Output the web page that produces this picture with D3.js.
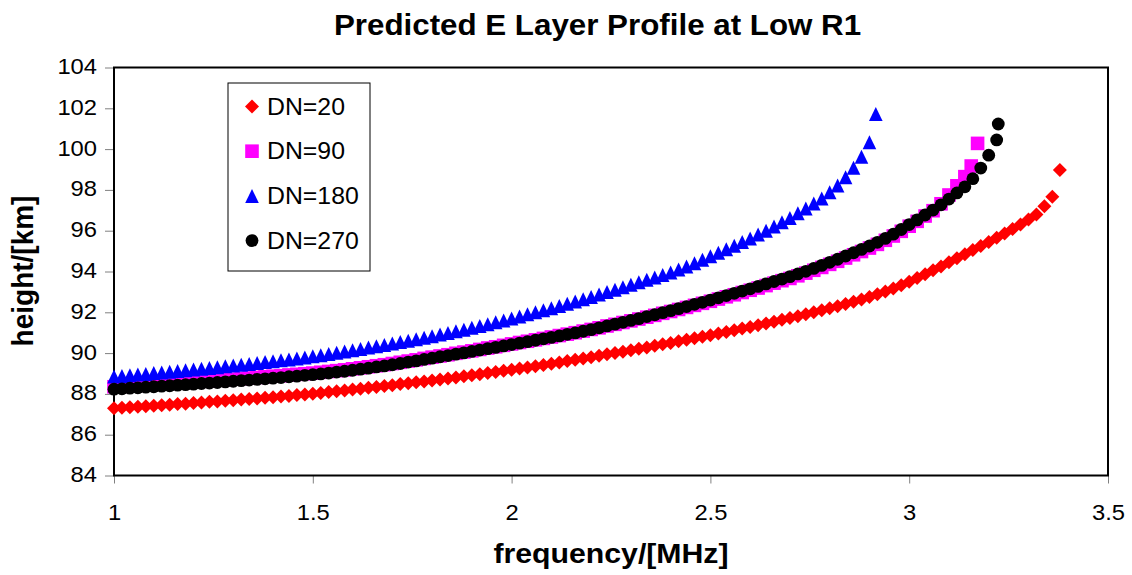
<!DOCTYPE html>
<html>
<head>
<meta charset="utf-8">
<script src="https://cdn.jsdelivr.net/npm/d3@7"></script>
<style>
  body { margin: 0; background: #fff; }
  text { font-family: "Liberation Sans", Arial, sans-serif; fill: #000; }
</style>
</head>
<body>
<svg id="chart" width="1132" height="575"></svg>
<script>
// frequency grid (MHz), shared by all four series
const freq = [
  1.00,1.02,1.04,1.06,1.08, 1.10,1.12,1.14,1.16,1.18,
  1.20,1.22,1.24,1.26,1.28, 1.30,1.32,1.34,1.36,1.38,
  1.40,1.42,1.44,1.46,1.48, 1.50,1.52,1.54,1.56,1.58,
  1.60,1.62,1.64,1.66,1.68, 1.70,1.72,1.74,1.76,1.78,
  1.80,1.82,1.84,1.86,1.88, 1.90,1.92,1.94,1.96,1.98,
  2.00,2.02,2.04,2.06,2.08, 2.10,2.12,2.14,2.16,2.18,
  2.20,2.22,2.24,2.26,2.28, 2.30,2.32,2.34,2.36,2.38,
  2.40,2.42,2.44,2.46,2.48, 2.50,2.52,2.54,2.56,2.58,
  2.60,2.62,2.64,2.66,2.68, 2.70,2.72,2.74,2.76,2.78,
  2.80,2.82,2.84,2.86,2.88, 2.90,2.92,2.94,2.96,2.98,
  3.00,3.02,3.04,3.06,3.08, 3.10,3.12,3.14,3.16,3.18,
  3.20,3.22,3.24,3.26,3.28, 3.30,3.32,3.34,3.36
];

// heights (km) on the grid above
const dn20 = [
  87.30,87.32,87.34,87.37,87.39, 87.42,87.44,87.47,87.50,87.52,
  87.55,87.58,87.61,87.63,87.66, 87.69,87.72,87.75,87.78,87.81,
  87.84,87.87,87.90,87.94,87.97, 88.01,88.05,88.09,88.13,88.17,
  88.21,88.25,88.30,88.34,88.39, 88.43,88.48,88.52,88.57,88.61,
  88.66,88.71,88.76,88.81,88.86, 88.91,88.96,89.02,89.07,89.13,
  89.18,89.24,89.30,89.36,89.42, 89.48,89.54,89.61,89.67,89.74,
  89.80,89.87,89.94,90.00,90.07, 90.14,90.21,90.28,90.36,90.43,
  90.50,90.58,90.65,90.73,90.80, 90.88,90.96,91.04,91.12,91.20,
  91.28,91.37,91.45,91.54,91.63, 91.72,91.81,91.91,92.00,92.10,
  92.20,92.30,92.41,92.52,92.63, 92.75,92.88,93.02,93.17,93.33,
  93.50,93.68,93.87,94.06,94.25, 94.45,94.65,94.85,95.05,95.25,
  95.45,95.65,95.86,96.08,96.30, 96.55,96.80,97.20,97.67
];
const dn90 = [
  88.35,88.37,88.40,88.42,88.45, 88.47,88.50,88.52,88.55,88.57,
  88.60,88.62,88.64,88.67,88.70, 88.72,88.75,88.78,88.81,88.84,
  88.87,88.89,88.93,88.96,88.99, 89.02,89.06,89.10,89.14,89.18,
  89.23,89.28,89.33,89.38,89.43, 89.49,89.55,89.61,89.67,89.74,
  89.80,89.86,89.92,89.99,90.05, 90.11,90.18,90.25,90.31,90.38,
  90.45,90.52,90.58,90.65,90.72, 90.79,90.86,90.93,91.00,91.08,
  91.16,91.24,91.33,91.41,91.50, 91.58,91.67,91.76,91.85,91.95,
  92.04,92.14,92.24,92.34,92.44, 92.54,92.65,92.76,92.86,92.97,
  93.08,93.19,93.31,93.43,93.55, 93.66,93.79,93.92,94.06,94.20,
  94.35,94.50,94.66,94.82,94.98, 95.15,95.33,95.53,95.74,95.97,
  96.22,96.46,96.72,96.98,97.32, 97.75,98.20,98.65
];
const dn180 = [
  88.85,88.88,88.92,88.95,88.98, 89.02,89.05,89.09,89.12,89.16,
  89.20,89.23,89.27,89.31,89.35, 89.39,89.43,89.47,89.51,89.56,
  89.60,89.65,89.69,89.74,89.79, 89.85,89.90,89.96,90.02,90.08,
  90.14,90.20,90.27,90.33,90.40, 90.47,90.54,90.61,90.68,90.75,
  90.83,90.91,90.99,91.07,91.15, 91.24,91.33,91.42,91.51,91.60,
  91.70,91.80,91.90,92.00,92.10, 92.20,92.31,92.42,92.53,92.64,
  92.75,92.87,92.99,93.11,93.23, 93.35,93.47,93.59,93.71,93.83,
  93.95,94.10,94.25,94.41,94.58, 94.75,94.92,95.09,95.26,95.44,
  95.62,95.81,96.00,96.20,96.41, 96.62,96.85,97.09,97.33,97.58,
  97.88,98.22,98.62,99.08,99.62, 100.34
];
const dn270 = [
  88.23,88.25,88.28,88.30,88.33, 88.35,88.38,88.40,88.43,88.45,
  88.48,88.51,88.53,88.56,88.59, 88.62,88.65,88.68,88.71,88.74,
  88.77,88.80,88.84,88.87,88.91, 88.94,88.98,89.02,89.07,89.11,
  89.16,89.21,89.26,89.32,89.37, 89.43,89.49,89.56,89.62,89.69,
  89.75,89.82,89.88,89.95,90.01, 90.08,90.15,90.22,90.28,90.35,
  90.42,90.49,90.56,90.63,90.70, 90.77,90.84,90.92,90.99,91.07,
  91.15,91.24,91.33,91.42,91.51, 91.60,91.69,91.79,91.88,91.98,
  92.08,92.18,92.28,92.39,92.49, 92.60,92.71,92.82,92.93,93.04,
  93.15,93.27,93.39,93.51,93.63, 93.75,93.88,94.01,94.15,94.30,
  94.45,94.60,94.76,94.92,95.08, 95.25,95.43,95.62,95.83,96.06,
  96.30,96.53,96.77,97.01,97.27, 97.55,97.85,98.15,98.55,99.07,
  99.70,100.45
];

// last points of each profile, off the grid: [frequency, height]
const dn20Tail = [[3.379, 98.98]];
const dn90Tail = [[3.156, 99.17], [3.172, 100.28]];
const dn180Tail = [[2.916, 101.72]];
const dn270Tail = [[3.224, 101.23]];

const seriesNames = ["DN=20", "DN=90", "DN=180", "DN=270"];
const seriesColors = ["#ff0000", "#ff00ff", "#0000ff", "#000000"];
const seriesShapes = ["diamond", "square", "triangle", "circle"];

const xTicks = [1, 1.5, 2, 2.5, 3, 3.5];
const xTickLabels = ["1", "1.5", "2", "2.5", "3", "3.5"];
const yTicks = [84, 86, 88, 90, 92, 94, 96, 98, 100, 102, 104];

const svg = d3.select("#chart");
const plot = { left: 114, right: 1108, top: 67.5, bottom: 475.5 };
const stretch = 1.08; // the reference text is slightly wide

svg.append("rect")
  .attr("width", 1132).attr("height", 575).attr("fill", "#fff");

const x = d3.scaleLinear().domain([1, 3.5]).range([plot.left, plot.right]);
const y = d3.scaleLinear().domain([84, 104]).range([plot.bottom, plot.top]);

// axes
const xAxis = svg.append("g")
  .attr("transform", `translate(0,${plot.bottom})`)
  .call(d3.axisBottom(x).tickValues(xTicks).tickSize(8)
    .tickFormat((d, i) => xTickLabels[i]));

const yAxis = svg.append("g")
  .attr("transform", `translate(${plot.left},0)`)
  .call(d3.axisLeft(y).tickValues(yTicks).tickSize(9).tickFormat(d => d));

svg.selectAll(".domain").remove();
svg.selectAll(".tick line").attr("stroke", "#808080").attr("stroke-width", 1);
svg.selectAll(".tick text")
  .attr("font-size", "22px")
  .attr("font-family", '"Liberation Sans", Arial, sans-serif')
  .attr("fill", "#000")
  .attr("dy", null);
xAxis.selectAll(".tick text")
  .attr("y", 44.5)
  .attr("transform", `scale(${stretch},1)`);
yAxis.selectAll(".tick text")
  .attr("x", -17 / stretch)
  .attr("y", 6)
  .attr("transform", `scale(${stretch},1)`);

// plot frame
svg.append("rect")
  .attr("x", plot.left).attr("y", plot.top)
  .attr("width", plot.right - plot.left).attr("height", plot.bottom - plot.top)
  .attr("fill", "none").attr("stroke", "#000").attr("stroke-width", 2);

// marker shapes
function marker(sel, shape, color) {
  if (shape === "circle") {
    sel.append("circle").attr("r", 6.4).attr("fill", color);
  } else if (shape === "square") {
    sel.append("rect").attr("x", -6.8).attr("y", -6.8)
      .attr("width", 13.6).attr("height", 13.6).attr("fill", color);
  } else if (shape === "diamond") {
    sel.append("path").attr("d", "M0,-7L7,0L0,7L-7,0Z").attr("fill", color);
  } else {
    sel.append("path").attr("d", "M0,-7L6.8,7L-6.8,7Z").attr("fill", color);
  }
}

const heights = [dn20, dn90, dn180, dn270];
const tails = [dn20Tail, dn90Tail, dn180Tail, dn270Tail];

heights.forEach((hs, k) => {
  const pts = hs.map((h, i) => [freq[i], h]).concat(tails[k]);
  const g = svg.append("g");
  g.selectAll("g")
    .data(pts)
    .enter()
    .append("g")
      .attr("transform", d => `translate(${x(d[0])},${y(d[1])})`)
      .each(function () { marker(d3.select(this), seriesShapes[k], seriesColors[k]); });
});

// legend
const legend = svg.append("g").attr("transform", "translate(228,83)");
legend.append("rect")
  .attr("width", 142).attr("height", 188)
  .attr("fill", "#fff").attr("stroke", "#000").attr("stroke-width", 1);

const rows = legend.selectAll(".row")
  .data(seriesNames)
  .enter()
  .append("g")
    .attr("transform", (d, i) => `translate(24,${23.5 + i * 44.7})`);
rows.each(function (d, i) { marker(d3.select(this), seriesShapes[i], seriesColors[i]); });
rows.append("text")
  .attr("x", 15 / stretch)
  .attr("y", 8)
  .attr("transform", `scale(${stretch},1)`)
  .attr("font-size", "23px")
  .text(d => d);

// titles
svg.append("text")
  .attr("transform", `translate(597.5,35) scale(${stretch},1)`)
  .attr("text-anchor", "middle")
  .attr("font-size", "29px")
  .attr("font-weight", "bold")
  .text("Predicted E Layer Profile at Low R1");

svg.append("text")
  .attr("transform", `translate(611,563) scale(${stretch},1)`)
  .attr("text-anchor", "middle")
  .attr("font-size", "28px")
  .attr("font-weight", "bold")
  .text("frequency/[MHz]");

svg.append("text")
  .attr("transform", `translate(33,271) rotate(-90) scale(1,${stretch})`)
  .attr("text-anchor", "middle")
  .attr("font-size", "28px")
  .attr("font-weight", "bold")
  .text("height/[km]");
</script>
</body>
</html>
